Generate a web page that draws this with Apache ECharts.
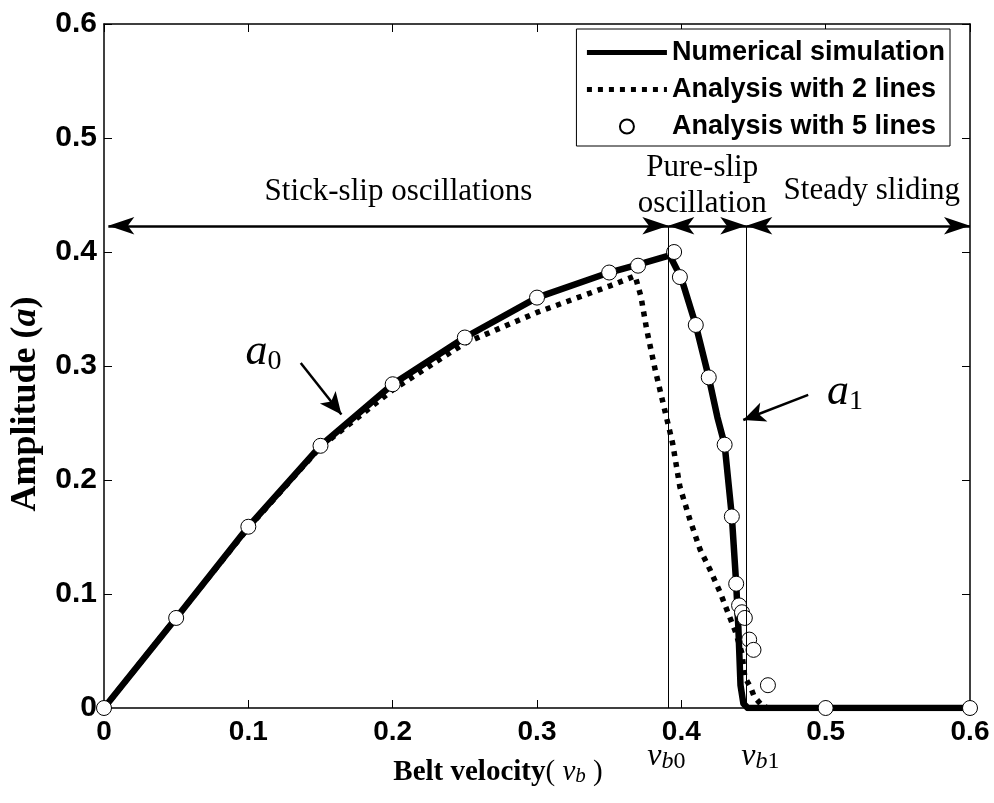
<!DOCTYPE html>
<html><head><meta charset="utf-8">
<script src="https://cdn.jsdelivr.net/npm/echarts@6/dist/echarts.min.js"></script>
<style>html,body{margin:0;padding:0;background:#fff}#c{width:994px;height:803px}</style>
</head><body><div id="c"></div>
<script>
// ---------- data ----------
const xTickLabels = ['0', '0.1', '0.2', '0.3', '0.4', '0.5', '0.6'];
const yTickLabels = ['0', '0.1', '0.2', '0.3', '0.4', '0.5', '0.6'];

// Numerical simulation (solid)
const simX = [0, 0.05, 0.1, 0.15, 0.2, 0.25, 0.3, 0.35, 0.37, 0.392, 0.4, 0.41, 0.419, 0.425, 0.43, 0.435, 0.438, 0.4395, 0.441, 0.443, 0.446, 0.6];
const simY = [0, 0.079, 0.159, 0.23, 0.284, 0.325, 0.36, 0.382, 0.389, 0.397, 0.377, 0.336, 0.29, 0.255, 0.231, 0.168, 0.109, 0.071, 0.02, 0.004, 0, 0];

// Analysis with 2 lines (dotted)
const twoX = [0, 0.05, 0.1, 0.15, 0.2, 0.25, 0.3, 0.35, 0.368, 0.372, 0.376, 0.382, 0.388, 0.394, 0.399, 0.406, 0.413, 0.42, 0.427, 0.4325, 0.4375, 0.442, 0.444, 0.448, 0.4505, 0.456, 0.46, 0.6];
const twoY = [0, 0.079, 0.158, 0.229, 0.279, 0.32, 0.347, 0.37, 0.379, 0.361, 0.332, 0.296, 0.264, 0.232, 0.194, 0.165, 0.139, 0.121, 0.101, 0.083, 0.067, 0.048, 0.027, 0.018, 0.01, 0.002, 0, 0];

// Analysis with 5 lines (circles)
const fiveX = [0, 0.05, 0.1, 0.15, 0.2, 0.25, 0.3, 0.35, 0.37, 0.395, 0.399, 0.41, 0.419, 0.43, 0.435, 0.438, 0.44, 0.442, 0.444, 0.447, 0.45, 0.46, 0.5, 0.6];
const fiveY = [0, 0.079, 0.159, 0.23, 0.284, 0.325, 0.36, 0.382, 0.388, 0.4, 0.378, 0.336, 0.29, 0.231, 0.168, 0.109, 0.09, 0.084, 0.079, 0.06, 0.051, 0.02, 0, 0];

const seriesNames = ['Numerical simulation', 'Analysis with 2 lines', 'Analysis with 5 lines'];
const regionNames = ['Stick-slip oscillations', 'Pure-slip\noscillation', 'Steady sliding'];
const vb0 = 0.391, vb1 = 0.445, regionArrowY = 0.423;

// ---------- chart ----------
const serif = "'Liberation Serif','Times New Roman',serif";
const sans = "'Liberation Sans',Arial,sans-serif";
const zip = (xs, ys) => xs.map((x, i) => [x, ys[i]]);
const chart = echarts.init(document.getElementById('c'), null, {renderer: 'canvas'});

function xAxisDef(pos, labels) {
  return {
    type: 'value', min: 0, max: 0.6, interval: 0.1, position: pos,
    axisLine: {show: true, onZero: false, lineStyle: {color: '#000', width: 1.5}},
    axisTick: {show: true, inside: true, length: 8, lineStyle: {color: '#000', width: 1}},
    splitLine: {show: false},
    axisLabel: labels ? {
      show: true, color: '#000', fontFamily: sans, fontWeight: 'bold', fontSize: 28, margin: 10,
      formatter: v => xTickLabels[Math.round(v * 10)]
    } : {show: false}
  };
}
function yAxisDef(pos, labels) {
  return {
    type: 'value', min: 0, max: 0.6, interval: 0.1, position: pos,
    axisLine: {show: true, onZero: false, lineStyle: {color: '#000', width: 1.5}},
    axisTick: {show: true, inside: true, length: 8, lineStyle: {color: '#000', width: 1}},
    splitLine: {show: false},
    axisLabel: labels ? {
      show: true, color: '#000', fontFamily: sans, fontWeight: 'bold', fontSize: 30, margin: 7,
      formatter: v => yTickLabels[Math.round(v * 10)]
    } : {show: false}
  };
}

const xb = xAxisDef('bottom', true);
xb.name = '{t|Belt velocity}{p|(}{v| v}{s|b}{p| )}';
xb.nameLocation = 'middle';
xb.nameGap = 50;
xb.nameTextStyle = {
  padding: [0, 78, 0, 0],
  rich: {
    t: {fontFamily: serif, fontWeight: 'bold', fontSize: 29, color: '#000'},
    p: {fontFamily: serif, fontSize: 29, color: '#000'},
    v: {fontFamily: serif, fontStyle: 'italic', fontSize: 29, color: '#000'},
    s: {fontFamily: serif, fontStyle: 'italic', fontSize: 21, color: '#000', verticalAlign: 'bottom', lineHeight: 20}
  }
};
const yl = yAxisDef('left', true);
yl.name = '{t|Amplitude }{t|(}{i|a}{t|)}';
yl.nameLocation = 'middle';
yl.nameGap = 60;
yl.nameTextStyle = {
  padding: [0, 76, 0, 0],
  rich: {
    t: {fontFamily: serif, fontWeight: 'bold', fontSize: 36, color: '#000'},
    i: {fontFamily: serif, fontWeight: 'bold', fontStyle: 'italic', fontSize: 36, color: '#000'}
  }
};

const option = {
  animation: false,
  backgroundColor: '#fff',
  grid: {left: 103, right: 24, top: 24, bottom: 95, containLabel: false},
  xAxis: [xb, xAxisDef('top', false)],
  yAxis: [yl, yAxisDef('right', false)],
  legend: {
    data: [
      {name: seriesNames[0], itemStyle: {opacity: 0}, lineStyle: {color: '#000', width: 5, type: 'solid'}},
      {name: seriesNames[1], itemStyle: {opacity: 0}, lineStyle: {color: '#000', width: 5, type: [5, 6], cap: 'butt'}},
      {name: seriesNames[2]}
    ],
    orient: 'vertical', right: 44, top: 29,
    padding: [10, 5, 6, 8],
    backgroundColor: '#fff', borderColor: '#000', borderWidth: 1, borderRadius: 0,
    itemWidth: 80, itemHeight: 14, itemGap: 10,
    textStyle: {fontFamily: sans, fontWeight: 'bold', fontSize: 27, color: '#000'},
    selectedMode: false, z: 20
  },
  series: [
    {
      name: seriesNames[1], type: 'line', data: zip(twoX, twoY), symbol: 'none', z: 2,
      lineStyle: {color: '#000', width: 5.5, type: [5, 6], cap: 'butt'}, itemStyle: {color: '#000'}
    },
    {
      name: seriesNames[0], type: 'line', data: zip(simX, simY), symbol: 'none', z: 3,
      lineStyle: {color: '#000', width: 6.5, type: 'solid', join: 'round'}, itemStyle: {color: '#000'}
    },
    {
      name: seriesNames[2], type: 'scatter', data: zip(fiveX, fiveY), symbol: 'circle', symbolSize: 15, z: 4, clip: false,
      itemStyle: {color: '#fff', borderColor: '#000', borderWidth: 1, opacity: 1}
    }
  ]
};
chart.setOption(option);

// ---------- annotations (positioned through the axes) ----------
const toPx = p => chart.convertToPixel({seriesIndex: 1}, p);
function seg(p0, p1, h0, h1, size) {
  return [
    {coord: p0, symbol: h0 ? 'arrow' : 'none', symbolSize: size},
    {coord: p1, symbol: h1 ? 'arrow' : 'none', symbolSize: size}
  ];
}
const regionSize = [13, 26];
const aSize = [15, 22];
const thinStyle = {color: '#000', width: 1, type: 'solid'};
const arrowStyle = {color: '#000', width: 2.5, type: 'solid'};
const mlData = [
  [{coord: [vb0, 0], symbol: 'none', lineStyle: thinStyle}, {coord: [vb0, regionArrowY], symbol: 'none'}],
  [{coord: [vb1, 0], symbol: 'none', lineStyle: thinStyle}, {coord: [vb1, regionArrowY], symbol: 'none'}],
  seg([0.003, regionArrowY], [vb0, regionArrowY], 1, 1, regionSize),
  seg([vb0, regionArrowY], [vb1, regionArrowY], 1, 1, regionSize),
  seg([vb1, regionArrowY], [0.6, regionArrowY], 1, 1, regionSize),
  seg([0.1363, 0.3026], [0.1645, 0.2575], 0, 1, aSize),
  seg([0.4879, 0.2746], [0.4429, 0.2526], 0, 1, aSize)
];
mlData.slice(2).forEach(d => { d[0].lineStyle = arrowStyle; });

function txt(p, text, extra) {
  const q = toPx(p);
  return Object.assign({type: 'text', x: q[0], y: q[1], z: 30, silent: true,
    style: Object.assign({text: text, fill: '#000', align: 'center', verticalAlign: 'middle'}, extra)});
}
const regionFont = {font: '31px ' + serif};
const aRich = {
  a: {fontFamily: serif, fontStyle: 'italic', fontSize: 44, lineHeight: 46},
  s: {fontFamily: serif, fontSize: 28, lineHeight: 22, verticalAlign: 'bottom'}
};
const vRich = {
  v: {fontFamily: serif, fontStyle: 'italic', fontSize: 32, lineHeight: 34},
  b: {fontFamily: serif, fontStyle: 'italic', fontSize: 24, lineHeight: 20, verticalAlign: 'bottom'},
  s: {fontFamily: serif, fontSize: 24, lineHeight: 20, verticalAlign: 'bottom'}
};
const graphics = [
  txt([0.204, 0.4526], regionNames[0], regionFont),
  txt([0.4145, 0.458], regionNames[1], Object.assign({lineHeight: 36}, regionFont)),
  txt([0.532, 0.454], regionNames[2], regionFont),
  txt([0.098, 0.312], '{a|a}{s|0}', {rich: aRich, align: 'left'}),
  txt([0.501, 0.277], '{a|a}{s|1}', {rich: aRich, align: 'left'}),
  txt([0.3896, -0.043], '{v|v}{b|b}{s|0}', {rich: vRich}),
  txt([0.4547, -0.043], '{v|v}{b|b}{s|1}', {rich: vRich})
];

chart.setOption({
  series: [{}, {}, {
    markLine: {
      silent: true, animation: false, symbol: 'none', precision: 6,
      label: {show: false}, emphasis: {disabled: true},
      lineStyle: {color: '#000', type: 'solid', width: 1},
      data: mlData
    }
  }],
  graphic: graphics
});
</script></body></html>
